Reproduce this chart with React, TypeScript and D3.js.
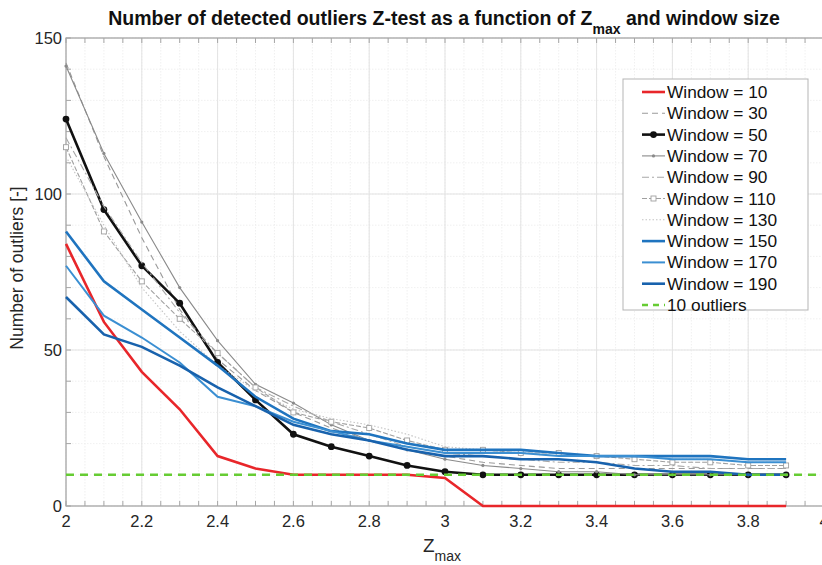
import React from "react";
import * as d3 from "d3";

const zmax = [2.0, 2.1, 2.2, 2.3, 2.4, 2.5, 2.6, 2.7, 2.8, 2.9, 3.0, 3.1, 3.2, 3.3, 3.4, 3.5, 3.6, 3.7, 3.8, 3.9];
const w10 = [84, 59, 43, 31, 16, 12, 10, 10, 10, 10, 9, 0, 0, 0, 0, 0, 0, 0, 0, 0];
const w30 = [142, 112, 86, 63, 47, 37, 30, 25, 21, 18, 16, 14, 13, 12, 12, 12, 12, 12, 12, 12];
const w50 = [124, 95, 77, 65, 46, 34, 23, 19, 16, 13, 11, 10, 10, 10, 10, 10, 10, 10, 10, 10];
const w70 = [141, 113, 91, 70, 53, 39, 33, 26, 21, 18, 15, 13, 12, 11, 11, 10, 10, 10, 10, 10];
const w90 = [118, 96, 78, 62, 49, 38, 32, 27, 23, 19, 17, 16, 15, 14, 14, 13, 13, 12, 12, 12];
const w110 = [115, 88, 72, 60, 49, 38, 30, 27, 25, 21, 18, 18, 17, 17, 16, 15, 14, 14, 13, 13];
const w130 = [112, 90, 70, 56, 45, 37, 31, 28, 26, 23, 19, 18, 17, 17, 16, 16, 15, 15, 14, 14];
const w150 = [88, 72, 63, 54, 45, 35, 28, 24, 23, 20, 18, 18, 18, 17, 16, 16, 16, 16, 15, 15];
const w170 = [77, 61, 54, 46, 35, 32, 27, 24, 21, 19, 17, 17, 17, 16, 16, 16, 15, 15, 14, 14];
const w190 = [67, 55, 51, 45, 38, 32, 26, 23, 21, 18, 16, 16, 15, 15, 14, 12, 11, 11, 10, 10];
const thresholdValue = 10;
const thresholdX = [2, 4];

const xTicks = [2, 2.2, 2.4, 2.6, 2.8, 3, 3.2, 3.4, 3.6, 3.8, 4];
const yTicks = [0, 50, 100, 150];

type Series = {
  label: string;
  values: number[];
  color: string;
  width: number;
  dash?: string;
  marker?: "dot" | "bigdot" | "square";
};

const series: Series[] = [
  { label: "Window = 10", values: w10, color: "#e8262a", width: 2.6 },
  { label: "Window = 30", values: w30, color: "#9a9a9a", width: 1.1, dash: "6,4" },
  { label: "Window = 50", values: w50, color: "#111111", width: 2.6, marker: "bigdot" },
  { label: "Window = 70", values: w70, color: "#8a8a8a", width: 1.1, marker: "dot" },
  { label: "Window = 90", values: w90, color: "#a8a8a8", width: 1.1, dash: "7,3,2,3" },
  { label: "Window = 110", values: w110, color: "#a0a0a0", width: 1.1, dash: "5,2", marker: "square" },
  { label: "Window = 130", values: w130, color: "#c4c4c4", width: 1.1, dash: "1.5,2" },
  { label: "Window = 150", values: w150, color: "#1f74bf", width: 2.6 },
  { label: "Window = 170", values: w170, color: "#3b8fd2", width: 2.0 },
  { label: "Window = 190", values: w190, color: "#1862ad", width: 2.6 },
];

const W = 822;
const H = 565;
const x = d3.scaleLinear().domain([2, 4]).range([66, 824]);
const y = d3.scaleLinear().domain([0, 150]).range([506, 38]);

const font = "'Liberation Sans', Arial, Helvetica, sans-serif";

function Marker({ s, px, py }: { s: Series; px: number; py: number }) {
  if (s.marker === "bigdot") return <circle cx={px} cy={py} r={3.4} fill={s.color} />;
  if (s.marker === "dot") return <circle cx={px} cy={py} r={1.6} fill={s.color} />;
  if (s.marker === "square")
    return <rect x={px - 2.5} y={py - 2.5} width={5} height={5} fill="white" stroke={s.color} strokeWidth={0.9} />;
  return null;
}

export default function App() {
  const line = d3
    .line<[number, number]>()
    .x((d) => x(d[0]))
    .y((d) => y(d[1]));

  const minorX = d3.range(0, 41).map((i) => 2 + i * 0.05);
  const minorY = d3.range(0, 16).map((i) => i * 10);
  const [x0, x1] = x.range();
  const [y0, y1] = y.range();

  const legX = 623;
  const legY = 79;
  const legW = 185;
  const legH = 231;
  const rowH = 21.3;
  const allLegend = [
    ...series,
    { label: "10 outliers", values: [], color: "#66cc33", width: 2.6, dash: "6,5" } as Series,
  ];

  return (
    <svg width={W} height={H} style={{ position: "absolute", left: 0, top: 0, background: "white" }} fontFamily={font}>
      <rect x={0} y={0} width={W} height={H} fill="white" />
      {/* minor grid */}
      {minorX.map((v, i) => (
        <line key={"mx" + i} x1={x(v)} x2={x(v)} y1={y1} y2={y0} stroke="#ececec" strokeWidth={0.8} strokeDasharray="1.5,1.5" />
      ))}
      {minorY.map((v, i) => (
        <line key={"my" + i} x1={x0} x2={x1} y1={y(v)} y2={y(v)} stroke="#ececec" strokeWidth={0.8} strokeDasharray="1.5,1.5" />
      ))}
      {/* major grid */}
      {xTicks.map((v, i) => (
        <line key={"gx" + i} x1={x(v)} x2={x(v)} y1={y1} y2={y0} stroke="#e3e3e3" strokeWidth={1} />
      ))}
      {yTicks.map((v, i) => (
        <line key={"gy" + i} x1={x0} x2={x1} y1={y(v)} y2={y(v)} stroke="#e3e3e3" strokeWidth={1} />
      ))}
      {/* axes box */}
      <rect x={x0} y={y1} width={x1 - x0} height={y0 - y1} fill="none" stroke="#a6a6a6" strokeWidth={1.2} />
      {minorX.map((v, i) => (
        <g key={"tx" + i}>
          <line x1={x(v)} x2={x(v)} y1={y0} y2={y0 - 5} stroke="#a6a6a6" />
          <line x1={x(v)} x2={x(v)} y1={y1} y2={y1 + 5} stroke="#a6a6a6" />
        </g>
      ))}
      {minorY.map((v, i) => (
        <line key={"ty" + i} x1={x0} x2={x0 + 5} y1={y(v)} y2={y(v)} stroke="#a6a6a6" />
      ))}
      {/* tick labels */}
      {xTicks.map((v, i) => (
        <text key={"xl" + i} x={x(v)} y={y0 + 21} textAnchor="middle" fontSize={16.5} fill="#262626">
          {d3.format("~g")(v)}
        </text>
      ))}
      {yTicks.map((v, i) => (
        <text key={"yl" + i} x={x0 - 4} y={y(v) + 6} textAnchor="end" fontSize={16.5} fill="#262626">
          {v}
        </text>
      ))}
      {/* axis labels */}
      <text x={423} y={552} fontSize={19} fill="#262626">
        Z
        <tspan fontSize={14} dy={9}>max</tspan>
      </text>
      <text transform={`translate(23,268) rotate(-90)`} textAnchor="middle" fontSize={17.5} fill="#262626">
        Number of outliers [-]
      </text>
      {/* title */}
      <text x={444} y={25} textAnchor="middle" fontSize={19.5} fontWeight="bold" fill="#111">
        Number of detected outliers Z-test as a function of Z
        <tspan fontSize={14} dy={9}>max</tspan>
        <tspan dy={-9}> and window size</tspan>
      </text>
      {/* series */}
      {series.map((s, si) => {
        const pts = zmax.map((z, i) => [z, s.values[i]] as [number, number]);
        return (
          <g key={"s" + si}>
            <path d={line(pts) || ""} fill="none" stroke={s.color} strokeWidth={s.width} strokeDasharray={s.dash} />
            {s.marker && pts.map((p, i) => <Marker key={i} s={s} px={x(p[0])} py={y(p[1])} />)}
          </g>
        );
      })}
      {/* threshold on top */}
      <path
        d={line(thresholdX.map((v) => [v, thresholdValue]) as [number, number][]) || ""}
        fill="none"
        stroke="#66cc33"
        strokeWidth={2.6}
        strokeDasharray="8,6"
      />
      {/* legend */}
      <rect x={legX} y={legY} width={legW} height={legH} fill="white" stroke="#b5b5b5" strokeWidth={1} />
      {allLegend.map((s, i) => {
        const cy = legY + 13 + i * rowH;
        return (
          <g key={"lg" + i}>
            <line x1={642} x2={665} y1={cy} y2={cy} stroke={s.color} strokeWidth={s.width} strokeDasharray={s.dash} />
            {s.marker && <Marker s={s} px={653.5} py={cy} />}
            <text x={667} y={cy + 6} fontSize={17.3} fill="#111">
              {s.label}
            </text>
          </g>
        );
      })}
    </svg>
  );
}
